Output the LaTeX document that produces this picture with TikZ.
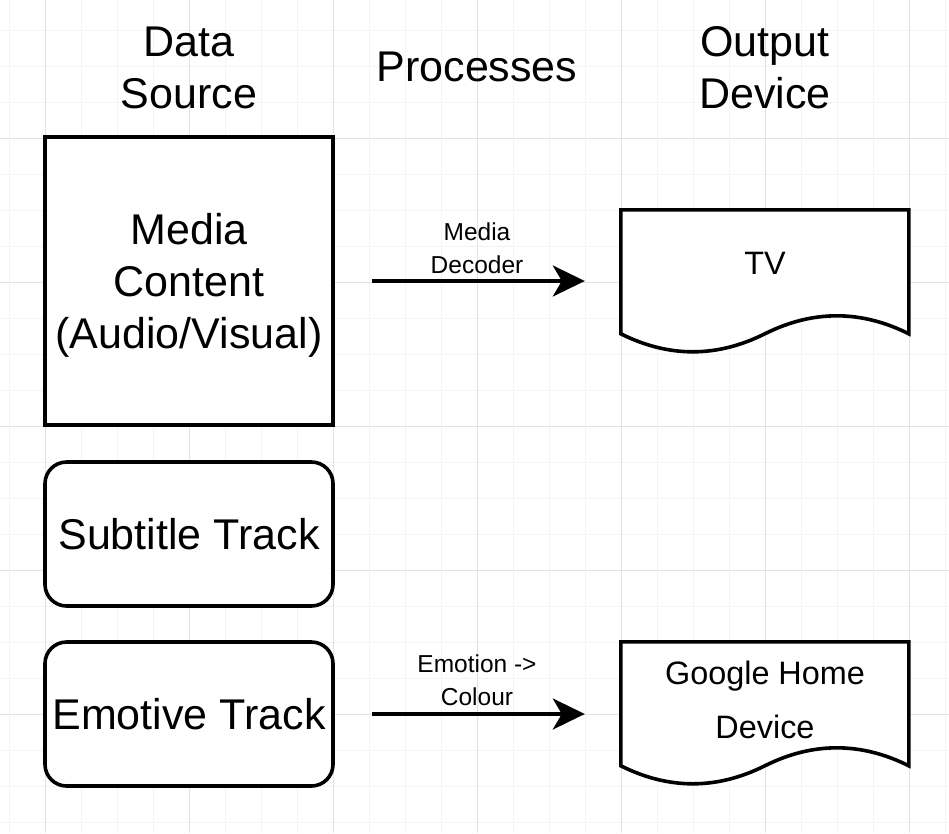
\documentclass[tikz,border=0pt]{standalone}
\usepackage{fontspec}
\setmainfont{Liberation Sans}
\usetikzlibrary{arrows.meta}
\definecolor{minorgrid}{HTML}{F4F4F4}
\definecolor{majorgrid}{HTML}{E2E2E2}
\tikzset{
  bigtext/.style={font=\fontsize{43}{52}\selectfont, align=center, inner sep=0pt},
  midtext/.style={font=\fontsize{32.4}{54}\selectfont, align=center, inner sep=0pt},
  labeltext/.style={font=\fontsize{24.5}{33}\selectfont, align=center, inner sep=0pt},
  squarebox/.style={draw, line width=3.6pt, fill=white, minimum width=288pt, minimum height=288pt, inner sep=0pt},
  roundbox/.style={draw, line width=3.6pt, fill=white, rounded corners=21.6pt, minimum width=288pt, minimum height=144pt, inner sep=0pt},
  docframe/.style={minimum width=288pt, minimum height=144pt, inner sep=0pt},
  docline/.style={draw, line width=3.6pt, fill=white, line join=miter},
  flow/.style={line width=3.6pt, -{Stealth[length=32pt, width=31pt, inset=9pt]}},
}
\newcommand{\docpath}[1]{%
  \begin{scope}[shift={(#1.north west)}]
    \path[docline] (0,0) -- (288,0) -- (288,124)
      .. controls (240,100) and (192,100) .. (144,124)
      .. controls (96,148) and (48,148) .. (0,124) -- cycle;
  \end{scope}}
\begin{document}
\begin{tikzpicture}[x=1pt, y=-1pt]
  \useasboundingbox (0,0) rectangle (949,833);
  \fill[white] (0,0) rectangle (949,833);
  % grid
  \foreach \gx in {9.5,45.5,...,949} \draw[minorgrid, line width=1pt] (\gx,0) -- (\gx,833);
  \foreach \gy in {30.5,66.5,...,833} \draw[minorgrid, line width=1pt] (0,\gy) -- (949,\gy);
  \foreach \gx in {45.5,189.5,...,949} \draw[majorgrid, line width=1pt] (\gx,0) -- (\gx,833);
  \foreach \gy in {138.5,282.5,...,833} \draw[majorgrid, line width=1pt] (0,\gy) -- (949,\gy);

  % headers
  \node[bigtext] (hsrc) at (189,68) {Data\\Source};
  \node[bigtext] (hproc) at (477,67) {Processes};
  \node[bigtext] (hout) at (765,68) {Output\\Device};

  % data sources
  \node[squarebox] (media) at (189,281) {};
  \node[bigtext] (mediatext) at (189,285) {Media\\Content\\(Audio/Visual)};
  \node[roundbox, bigtext, minimum width=288pt, minimum height=144pt] (subtitle) at (189,534) {Subtitle Track};
  \node[roundbox, bigtext, minimum width=288pt, minimum height=144pt] (emotive) at (189,714) {Emotive Track};

  % output devices
  \node[docframe] (tv) at (765,282) {};
  \docpath{tv}
  \node[midtext] (tvtext) at (765,263) {TV};
  \node[docframe] (google) at (765,714) {};
  \docpath{google}
  \node[midtext] (googletext) at (765,700) {Google Home\\Device};

  % processes
  \draw[flow, shorten <=37pt, shorten >=36pt] (media.east) -- (media.east -| tv.west);
  \node[labeltext] (declabel) at (477,248) {Media\\Decoder};
  \draw[flow, shorten <=37pt, shorten >=36pt] (emotive.east) -- (emotive.east -| google.west);
  \node[labeltext] (emolabel) at (477,680) {Emotion ->\\Colour};
\end{tikzpicture}
\end{document}
